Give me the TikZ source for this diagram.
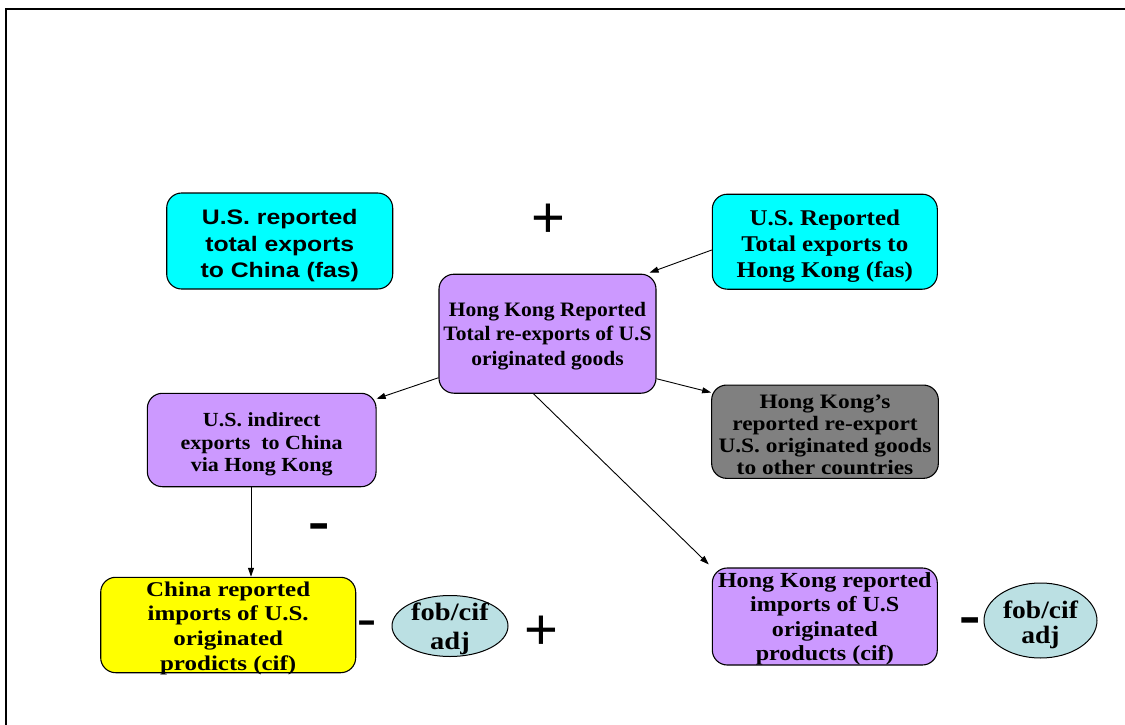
\documentclass[tikz,border=0pt]{standalone}
\usepackage{fontspec}
\usepackage{graphicx}
\setmainfont{Liberation Serif}
\newfontfamily\arialfont{Liberation Sans}
\usetikzlibrary{arrows.meta,shapes.geometric}
\newcommand\stxt[2]{\scalebox{#1}[1]{\begin{tabular}{@{}c@{}}#2\end{tabular}}}
\definecolor{cyanbox}{RGB}{0,255,255}
\definecolor{purplebox}{RGB}{204,153,255}
\definecolor{graybox}{RGB}{128,128,128}
\definecolor{yellowbox}{RGB}{255,255,0}
\definecolor{ovalblue}{RGB}{187,224,227}
\begin{document}
\begin{tikzpicture}[x=1pt,y=-1pt,
  box/.style={draw=black,line width=1.1pt,rounded corners=15pt,inner sep=0pt},
  oval/.style={ellipse,draw=black,line width=1pt,fill=ovalblue,inner sep=0pt},
  lbl/.style={inner sep=0pt},
  conn/.style={line width=0.9pt,-{Triangle[length=9pt,width=6pt]}},
  plussign/.style={inner sep=0pt,font=\arialfont\fontsize{58}{60}\selectfont},
  minusbold/.style={inner sep=0pt,anchor=base,font=\bfseries\fontsize{64}{70}\selectfont},
  minusthin/.style={inner sep=0pt,anchor=base,font=\fontsize{57}{60}\selectfont}]
\useasboundingbox (0,0) rectangle (1125,725);
\fill[white] (0,0) rectangle (1125,725);
\draw[line width=2.3pt] (6.2,725) -- (6.2,9) -- (1125,9);

% boxes
\node[box,fill=cyanbox,minimum width=226pt,minimum height=96pt] (uc) at (279.7,241) {};
\node[lbl,font=\arialfont\bfseries\fontsize{21}{26.5}\selectfont] (uct) at (279.7,245.7)
  {\stxt{1.18}{U.S. reported\\total exports\\to China (fas)}};

\node[box,fill=cyanbox,minimum width=225pt,minimum height=95pt] (hc) at (824.8,241.7) {};
\node[lbl,font=\bfseries\fontsize{22.5}{26}\selectfont] (hct) at (824.8,245.8)
  {\stxt{1.11}{U.S. Reported\\Total exports to\\Hong Kong (fas)}};

\node[box,fill=purplebox,minimum width=217pt,minimum height=119pt] (cp) at (547.5,333.7) {};
\node[lbl,font=\bfseries\fontsize{20.5}{24.5}\selectfont] (cpt) at (547.5,336)
  {\stxt{1.05}{Hong Kong Reported\\Total re-exports of U.S\\originated goods}};

\node[box,fill=purplebox,minimum width=228.7pt,minimum height=93.4pt] (lp) at (261.7,440) {};
\node[lbl,font=\bfseries\fontsize{20}{22.2}\selectfont] (lpt) at (261.7,444.6)
  {\stxt{1.1}{U.S. indirect\\exports\ \ to China\\via Hong Kong}};

\node[box,fill=graybox,minimum width=226.7pt,minimum height=93.3pt] (gb) at (825,431.7) {};
\node[lbl,font=\bfseries\fontsize{20.5}{22}\selectfont] (gbt) at (825,437.3)
  {\stxt{1.14}{Hong Kong's\\reported re-export\\U.S. originated goods\\to other countries}};

\node[box,fill=yellowbox,minimum width=255pt,minimum height=95.4pt] (yb) at (228.2,625) {};
\node[lbl,font=\bfseries\fontsize{21}{24.7}\selectfont] (ybt) at (228.2,628.4)
  {\stxt{1.19}{China reported\\imports of U.S.\\originated\\prodicts (cif)}};

\node[box,fill=purplebox,minimum width=225pt,minimum height=97pt] (hr) at (824.8,616.5) {};
\node[lbl,font=\bfseries\fontsize{21.5}{24.5}\selectfont] (hrt) at (824.8,619)
  {\stxt{1.12}{Hong Kong reported\\imports of U.S\\originated\\products (cif)}};

% ovals
\node[oval,minimum width=116pt,minimum height=61pt] (o1) at (450,626) {};
\node[lbl,font=\bfseries\fontsize{25}{29}\selectfont] (o1t) at (450,629.4)
  {\stxt{1.14}{fob/cif\\adj}};
\node[oval,minimum width=113pt,minimum height=75pt] (o2) at (1040.5,620.5) {};
\node[lbl,font=\bfseries\fontsize{25}{25}\selectfont] (o2t) at (1040.5,626)
  {\stxt{1.1}{fob/cif\\adj}};

% signs
\node[plussign] (p1) at (548.5,220.5) {+};
\node[plussign] (p2) at (541,633) {+};
\node[minusthin] (m1) at (367,636.9) {-};
\node[minusbold] (m2) at (319,541.7) {-};
\node[minusbold] (m3) at (970,635.4) {-};

% connectors
\draw[conn] ([yshift=-8.3pt]hc.west) -- ([xshift=-7pt,yshift=1pt]cp.north east);
\draw[conn] ([yshift=16pt]cp.south west) -- ([yshift=-6pt]lp.north east);
\draw[conn] ([yshift=15pt]cp.south east) -- ([yshift=-8pt]gb.north west);
\draw[conn] ([xshift=-14pt]cp.south) -- ([xshift=-3pt,yshift=3pt]hr.north west);
\draw[conn] ([xshift=-10.7pt]lp.south) -- ([xshift=-10.7pt]lp.south |- yb.north);
\end{tikzpicture}
\end{document}
